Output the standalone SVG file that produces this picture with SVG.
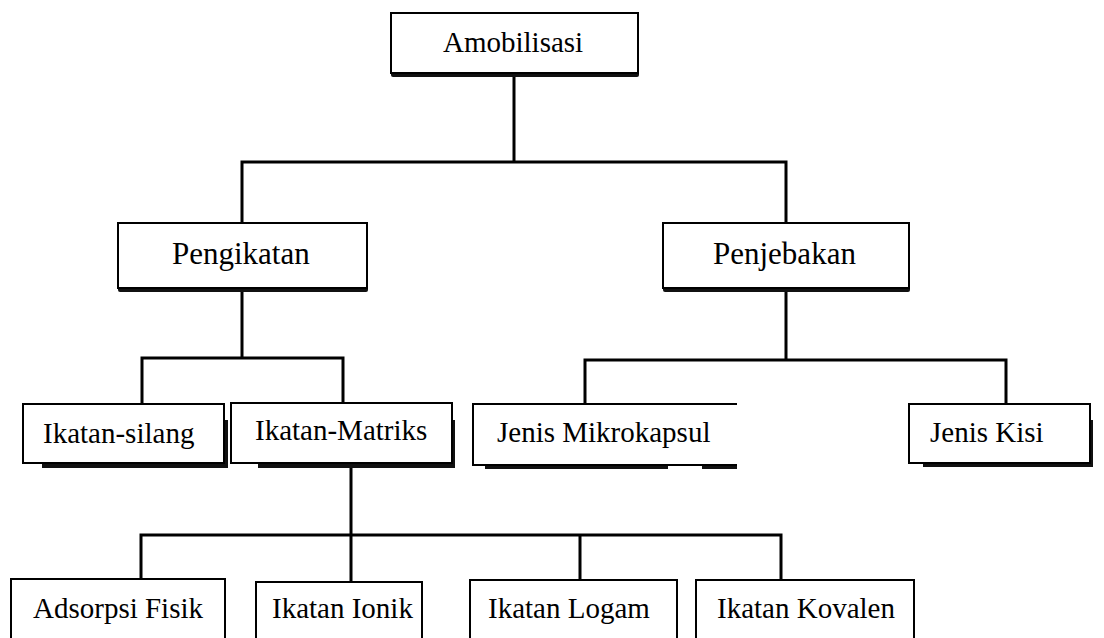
<svg xmlns="http://www.w3.org/2000/svg" width="1104" height="638" viewBox="0 0 1104 638">
<style>
.box{fill:#fff;stroke:#000;stroke-width:2}
.sh{fill:#111;stroke:none}
text{font-family:'Liberation Serif','Times New Roman','DejaVu Serif',serif;font-size:29px;fill:#000}
.tl{font-size:31px}
.c{fill:none;stroke:#000;stroke-width:3;stroke-linecap:square}
</style>
<rect width="1104" height="638" fill="#fff"/>
<g id="connectors">
<path class="c" d="M514 76V162M242 162H786M242 162V222M786 162V222"/>
<path class="c" d="M242 291V358M142 358H343M142 358V403M343 358V402"/>
<path class="c" d="M786 291V360M585 360H1006M585 360V403M1006 360V403"/>
<path class="c" d="M351 467V581M141 535H781M141 535V578M580 535V579M781 535V579"/>
</g>
<g id="amobilisasi">
<rect class="sh" x="391" y="16" width="248" height="61" rx="2"/>
<rect class="box" x="391" y="13" width="247" height="60"/>
<text x="443" y="52" font-family="Liberation Serif, serif">Amobilisasi</text>
</g>
<g id="pengikatan">
<rect class="sh" x="118" y="226" width="250" height="66" rx="2"/>
<rect class="box" x="118" y="223" width="249" height="65"/>
<text class="tl" x="172" y="264" font-family="Liberation Serif, serif">Pengikatan</text>
</g>
<g id="penjebakan">
<rect class="sh" x="663" y="226" width="247" height="66" rx="2"/>
<rect class="box" x="663" y="223" width="246" height="65"/>
<text class="tl" x="713" y="264" font-family="Liberation Serif, serif">Penjebakan</text>
</g>
<g id="ikatan-silang">
<rect class="sh" x="42" y="420" width="186" height="48"/>
<rect class="box" x="23" y="404" width="201" height="59"/>
<text x="43" y="443" font-family="Liberation Serif, serif">Ikatan-silang</text>
</g>
<g id="ikatan-matriks">
<rect class="sh" x="258" y="420" width="197" height="48"/>
<rect class="box" x="231" y="403" width="221" height="60"/>
<text x="255" y="440" font-family="Liberation Serif, serif">Ikatan-Matriks</text>
</g>
<g id="jenis-mikrokapsul">
<path class="sh" d="M485 462H668V469H485ZM702 462H737V469H702Z"/>
<path class="box" d="M737 404H473V465H737"/>
<text x="497" y="442" font-family="Liberation Serif, serif">Jenis Mikrokapsul</text>
</g>
<g id="jenis-kisi">
<rect class="sh" x="923" y="420" width="170" height="47"/>
<rect class="box" x="909" y="404" width="181" height="59"/>
<text x="930" y="442" font-family="Liberation Serif, serif">Jenis Kisi</text>
</g>
<g id="adsorpsi-fisik">
<rect class="box" x="11" y="579" width="214" height="70"/>
<text x="33" y="618" font-family="Liberation Serif, serif">Adsorpsi Fisik</text>
</g>
<g id="ikatan-ionik">
<rect class="sh" x="418" y="600" width="4" height="40"/>
<rect class="box" x="256" y="582" width="166" height="70"/>
<text x="272" y="618" font-family="Liberation Serif, serif">Ikatan Ionik</text>
</g>
<g id="ikatan-logam">
<rect class="box" x="470" y="580" width="207" height="70"/>
<text x="488" y="618" font-family="Liberation Serif, serif">Ikatan Logam</text>
</g>
<g id="ikatan-kovalen">
<rect class="box" x="696" y="580" width="218" height="70"/>
<text x="717" y="618" font-family="Liberation Serif, serif">Ikatan Kovalen</text>
</g>
</svg>
